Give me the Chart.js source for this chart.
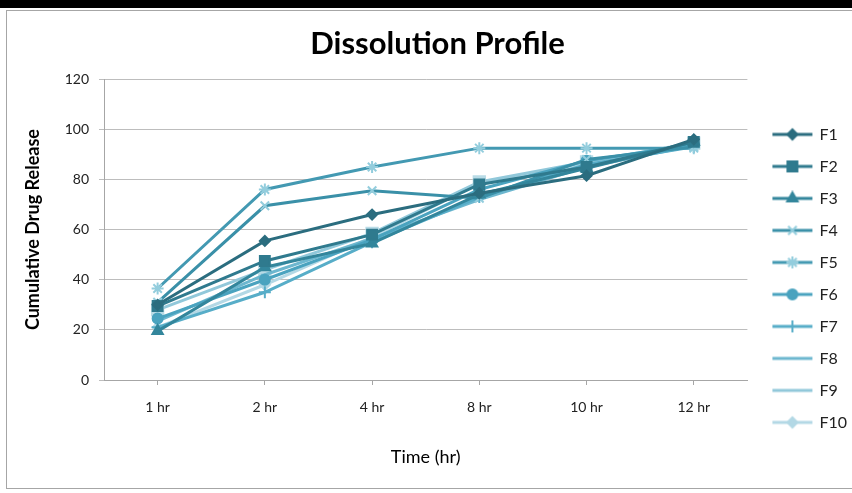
<!DOCTYPE html>
<html>
<head>
<meta charset="utf-8">
<title>Dissolution Profile</title>
<script src="https://cdn.jsdelivr.net/npm/chart.js@4.4.1/dist/chart.umd.min.js"></script>
<style>
  html, body { margin: 0; padding: 0; background: #fff; }
  #wrap { position: relative; width: 852px; height: 493px; overflow: hidden; }
  #topbar { position: absolute; left: 0; top: 0; width: 852px; height: 8px; background: #000; }
  #frame { position: absolute; left: 6px; top: 10px; width: 870px; height: 477px; border: 1px solid #a6a6a6; pointer-events: none; }
  canvas { position: absolute; left: 0; top: 0; }
</style>
</head>
<body>
<div id="wrap">
  <canvas id="dissolutionChart" width="852" height="493"></canvas>
  <div id="topbar"></div>
  <div id="frame"></div>
</div>
<script>
// time points (x categories)
const timePoints = ['1 hr', '2 hr', '4 hr', '8 hr', '10 hr', '12 hr'];

// cumulative drug release per formulation
const f1  = [30,   55.5, 66,   74.5, 81.5, 96];
const f2  = [29.5, 47.5, 58,   78,   85,   95];
const f3  = [19.5, 45,   54.5, 74,   84.5, 95];
const f4  = [31,   69.5, 75.5, 72.5, 88,   93];
const f5  = [36.5, 76,   85,   92.5, 92.5, 92.5];
const f6  = [24.5, 40,   56,   76,   87.5, 94];
const f7  = [21,   35,   55,   73,   86,   93];
const f8  = [23.5, 42,   56.5, 72,   85,   93.5];
const f9  = [28,   44,   58.5, 79,   87,   94.5];
const f10 = [21,   38,   57,   78.5, 86,   95];

const seriesNames = ['F1', 'F2', 'F3', 'F4', 'F5', 'F6', 'F7', 'F8', 'F9', 'F10'];
const seriesData = [f1, f2, f3, f4, f5, f6, f7, f8, f9, f10];
const yTicks = [0, 20, 40, 60, 80, 100, 120];

// styling per series
const lineColors = ['#2b6d7f', '#2f7a8e', '#33869c', '#3a90a8', '#4399b2', '#4aa3bf',
                    '#57adc8', '#6db7cf', '#91c8da', '#b3d8e5'];
const markerColors = ['#2b6d7f', '#2f7a8e', '#33869c', '#93cddd', '#93cddd', '#4aa3bf',
                      '#57adc8', '#6db7cf', '#b9dbe6', '#b3d8e5'];
const markers = ['rectRot', 'rect', 'triangle', 'crossRot', 'star', 'circle', 'cross', 'line', 'rect', 'rectRot'];
const markerSizes = [5, 7, 6, 6, 6, 5, 6, 4, 8, 5];
const legendMarkers = ['rectRot', 'rect', 'triangle', 'crossRot', 'star', 'circle', 'cross', null, null, 'rectRot'];

// legend swatch: short line with the marker in the middle, like the original
function legendIcon(i) {
  const c = document.createElement('canvas');
  c.width = 42; c.height = 16;
  const g = c.getContext('2d');
  g.strokeStyle = lineColors[i];
  g.lineWidth = 3;
  g.beginPath(); g.moveTo(1, 8); g.lineTo(41, 8); g.stroke();
  if (legendMarkers[i]) {
    g.fillStyle = markerColors[i];
    g.strokeStyle = markerColors[i];
    g.lineWidth = 2;
    Chart.helpers.drawPoint(g, { pointStyle: legendMarkers[i], radius: markerSizes[i], borderWidth: 2 }, 21, 8);
  }
  return c;
}
const legendIcons = seriesNames.map((n, i) => legendIcon(i));

const baseFont = 'Lato, "Open Sans", sans-serif';

const datasets = seriesNames.map((name, i) => ({
  label: name,
  data: seriesData[i],
  borderColor: lineColors[i],
  backgroundColor: markerColors[i],
  borderWidth: 3,
  pointStyle: markers[i],
  pointRadius: markerSizes[i],
  pointBackgroundColor: markerColors[i],
  pointBorderColor: markerColors[i],
  pointBorderWidth: 2,
  tension: 0,
  fill: false
}));

const ctx = document.getElementById('dissolutionChart').getContext('2d');
const chart = new Chart(ctx, {
  type: 'line',
  data: { labels: timePoints, datasets: datasets },
  options: {
    responsive: false,
    animation: false,
    layout: { padding: { left: 18, right: -5, top: 0, bottom: 0 } },
    plugins: {
      tooltip: { enabled: false },
      title: {
        display: true,
        text: 'Dissolution Profile',
        color: '#000',
        font: { family: baseFont, size: 31, weight: 'bold' },
        padding: { top: 25, bottom: 17 }
      },
      legend: {
        position: 'right',
        title: { display: true, text: ' ', font: { size: 14 }, padding: { top: 24, bottom: 23 } },
        labels: {
          usePointStyle: true,
          pointStyleWidth: 38,
          boxHeight: 14,
          padding: 16,
          color: '#222',
          font: { family: baseFont, size: 16 },
          generateLabels(chart) {
            const items = Chart.defaults.plugins.legend.labels.generateLabels(chart);
            items.forEach((it, i) => { it.pointStyle = legendIcons[i]; });
            return items;
          }
        }
      }
    },
    scales: {
      x: {
        offset: true,
        grid: { display: true, drawOnChartArea: false, tickLength: 5, color: '#a6a6a6' },
        border: { display: true, color: '#a6a6a6' },
        ticks: { color: '#222', padding: 14, font: { family: baseFont, size: 14 } },
        title: {
          display: true,
          text: 'Time (hr)',
          color: '#000',
          font: { family: baseFont, size: 18 },
          padding: { top: 0, bottom: 25 }
        },
        afterFit(scale) { scale.height = 113; }
      },
      y: {
        min: 0,
        max: 120,
        afterBuildTicks(scale) { scale.ticks = yTicks.map(v => ({ value: v })); },
        grid: { color: '#bdbdbd', tickLength: 5 },
        border: { display: true, color: '#a6a6a6' },
        ticks: { color: '#222', padding: 10, font: { family: baseFont, size: 14 } },
        title: {
          display: true,
          text: 'Cumulative Drug Release',
          color: '#000',
          font: { family: baseFont, size: 18, weight: 'bold' },
          padding: { top: 4, bottom: 4 }
        },
        afterFit(scale) { scale.width = 86; }
      },
      gap: {
        type: 'linear',
        position: 'right',
        grid: { display: false },
        border: { display: false },
        ticks: { display: false },
        afterFit(scale) { scale.width = 10; }
      }
    }
  }
});
</script>
</body>
</html>
